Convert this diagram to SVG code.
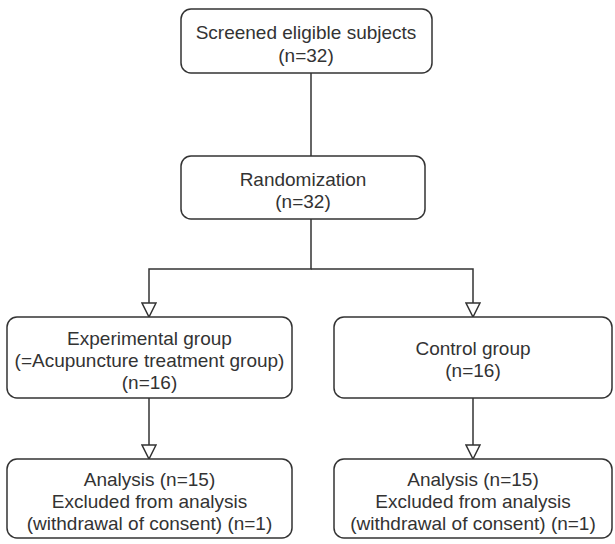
<svg xmlns="http://www.w3.org/2000/svg" width="615" height="544" viewBox="0 0 615 544">
<style>
.box{fill:#fff;stroke:#333;stroke-width:1.5}
.t{font-family:"Liberation Sans",Arial,sans-serif;font-size:19px;fill:#333;text-anchor:middle}
.c{fill:none;stroke:#333;stroke-width:1.5}
</style>
<defs>
<marker id="arr" viewBox="0 0 16 16" refX="15" refY="8" markerWidth="16" markerHeight="16" markerUnits="userSpaceOnUse" orient="auto">
<path d="M1,1 L15,8 L1,15 Z" fill="#fff" stroke="#333" stroke-width="1.5"/>
</marker>
</defs>
<rect width="615" height="544" fill="#fff"/>
<g id="connectors">
<path class="c" d="M311,73 V156"/>
<path class="c" d="M311,219 V269 H149 V317" marker-end="url(#arr)"/>
<path class="c" d="M311,269 H473 V317" marker-end="url(#arr)"/>
<path class="c" d="M149,398 V459" marker-end="url(#arr)"/>
<path class="c" d="M473,398 V459" marker-end="url(#arr)"/>
</g>
<g id="screened">
<rect class="box" x="181" y="9" width="251" height="64" rx="10"/>
<text class="t" x="306" y="39">Screened eligible subjects</text>
<text class="t" x="306" y="62">(n=32)</text>
</g>
<g id="randomization">
<rect class="box" x="181" y="156" width="244" height="63" rx="10"/>
<text class="t" x="303" y="186">Randomization</text>
<text class="t" x="303" y="208">(n=32)</text>
</g>
<g id="experimental">
<rect class="box" x="7" y="317" width="285" height="81" rx="10"/>
<text class="t" x="149.5" y="345">Experimental group</text>
<text class="t" x="149.5" y="367">(=Acupuncture treatment group)</text>
<text class="t" x="149.5" y="389">(n=16)</text>
</g>
<g id="control">
<rect class="box" x="334" y="317" width="278" height="81" rx="10"/>
<text class="t" x="473" y="355">Control group</text>
<text class="t" x="473" y="377">(n=16)</text>
</g>
<g id="analysis-exp">
<rect class="box" x="7" y="459" width="285" height="79" rx="10"/>
<text class="t" x="149.5" y="486">Analysis (n=15)</text>
<text class="t" x="149.5" y="508">Excluded from analysis</text>
<text class="t" x="149.5" y="530">(withdrawal of consent) (n=1)</text>
</g>
<g id="analysis-ctrl">
<rect class="box" x="334" y="459" width="278" height="79" rx="10"/>
<text class="t" x="473" y="486">Analysis (n=15)</text>
<text class="t" x="473" y="508">Excluded from analysis</text>
<text class="t" x="473" y="530">(withdrawal of consent) (n=1)</text>
</g>
</svg>
